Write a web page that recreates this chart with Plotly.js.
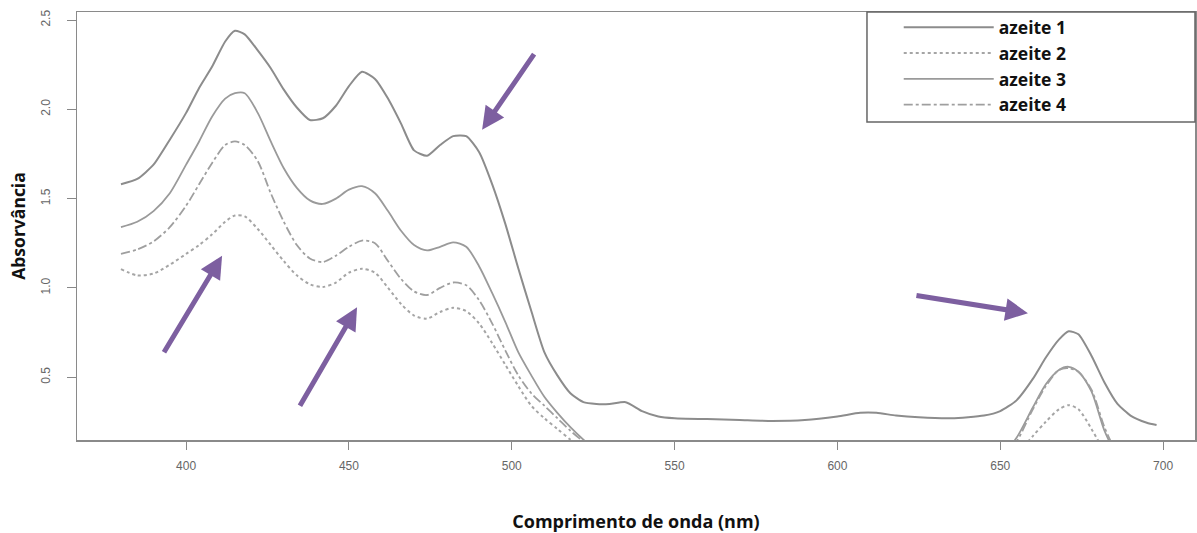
<!DOCTYPE html>
<html>
<head>
<meta charset="utf-8">
<script src="https://cdn.plot.ly/plotly-3.0.1.min.js"></script>
<style>html,body{margin:0;padding:0;background:#fff}#chart{width:1197px;height:533px}</style>
</head>
<body>
<div id="chart"></div>
<script>
// Wavelength (nm)
const wavelengths = [380,385,390,395,400,404,408,412,415,418,422,426,430,434,438,442,446,450,454,458,462,466,470,474,478,482,486,490,494,498,502,506,510,514,518,522,526,530,535,540,545,550,560,570,580,590,600,607,612,618,625,635,645,650,655,660,664,668,671,674,678,682,686,690,695,698];

// Absorbance values (null = below visible range)
const azeite1 = [1.58,1.61,1.69,1.83,1.98,2.12,2.24,2.38,2.44,2.42,2.33,2.23,2.11,2.01,1.94,1.95,2.02,2.13,2.21,2.17,2.06,1.92,1.77,1.74,1.80,1.85,1.85,1.76,1.58,1.36,1.11,0.87,0.64,0.51,0.41,0.36,0.35,0.35,0.36,0.31,0.28,0.27,0.265,0.26,0.255,0.26,0.28,0.30,0.30,0.285,0.275,0.27,0.285,0.31,0.37,0.49,0.61,0.71,0.757,0.74,0.62,0.47,0.35,0.285,0.245,0.232];
const azeite2 = [1.105,1.07,1.08,1.13,1.19,1.24,1.30,1.37,1.405,1.40,1.33,1.24,1.15,1.07,1.02,1.005,1.03,1.085,1.107,1.085,1.00,0.91,0.845,0.828,0.865,0.888,0.87,0.80,0.69,0.57,0.45,0.34,0.27,0.21,0.15,0.10,null,null,null,null,null,null,null,null,null,null,null,null,null,null,null,null,null,null,0.06,0.17,0.25,0.32,0.343,0.32,0.21,0.08,null,null,null,null];
const azeite3 = [1.34,1.37,1.43,1.53,1.69,1.82,1.96,2.06,2.09,2.09,1.98,1.82,1.67,1.56,1.49,1.47,1.50,1.55,1.57,1.53,1.43,1.32,1.24,1.21,1.23,1.255,1.23,1.12,0.97,0.81,0.64,0.51,0.39,0.30,0.22,0.15,0.09,null,null,null,null,null,null,null,null,null,null,null,null,null,null,null,null,0.05,0.16,0.33,0.46,0.54,0.558,0.53,0.42,0.20,0.05,null,null,null];
const azeite4 = [1.19,1.215,1.26,1.34,1.46,1.58,1.70,1.80,1.82,1.80,1.71,1.53,1.37,1.24,1.165,1.145,1.18,1.23,1.265,1.25,1.15,1.05,0.98,0.96,1.00,1.03,1.015,0.93,0.80,0.65,0.51,0.41,0.34,0.27,0.20,0.14,0.09,null,null,null,null,null,null,null,null,null,null,null,null,null,null,null,null,0.04,0.14,0.32,0.45,0.54,0.55,0.53,0.43,0.22,0.06,null,null,null];

const seriesNames = ['azeite 1','azeite 2','azeite 3','azeite 4'];
const yTicks = [0.5,1.0,1.5,2.0,2.5];
const yTickText = ['0.5','1.0','1.5','2.0','2.5'];
const xTicks = [400,450,500,550,600,650,700];

const traces = [
  {x: wavelengths, y: azeite1, name: seriesNames[0], legendgroup: 'g1', mode: 'lines', line: {color: '#8c8c8c', width: 2, shape: 'spline', smoothing: 0.6}},
  {x: wavelengths, y: azeite2, name: seriesNames[1], legendgroup: 'g2', mode: 'lines', line: {color: '#a5a5a5', width: 2, dash: 'dot', shape: 'spline', smoothing: 0.8}},
  {x: wavelengths, y: azeite3, name: seriesNames[2], legendgroup: 'g3', mode: 'lines', line: {color: '#9a9a9a', width: 1.8, shape: 'spline', smoothing: 0.8}},
  {x: wavelengths, y: azeite4, name: seriesNames[3], legendgroup: 'g4', mode: 'lines', line: {color: '#9f9f9f', width: 1.8, dash: 'dashdot', shape: 'spline', smoothing: 0.8}}
];

const arrowColor = '#7d5fa0';
function arrow(x, y, ax, ay) {
  return {x: x, y: y, xref: 'x', yref: 'y', ax: ax, ay: ay, axref: 'pixel', ayref: 'pixel', text: '', showarrow: true,
          arrowhead: 2, arrowsize: 0.9, arrowwidth: 5, arrowcolor: arrowColor};
}

const layout = {
  width: 1197, height: 533,
  paper_bgcolor: '#fff', plot_bgcolor: '#fff',
  margin: {l: 77, r: 2, t: 12, b: 93},
  showlegend: true,
  legend: {x: 0.735, y: 1.006, xanchor: 'left', yanchor: 'top', bgcolor: 'rgba(0,0,0,0)', borderwidth: 0,
           itemwidth: 90, tracegroupgap: 0,
           font: {family: 'Open Sans, sans-serif', size: 17.5, color: '#111', weight: 'bold'}},
  xaxis: {range: [366.5, 709.8], tickvals: xTicks, ticks: 'outside', ticklen: 8, tickcolor: '#888', ticklabelstandoff: 6,
          showgrid: false, zeroline: false, showline: true, mirror: true, linecolor: '#8a8a8a', linewidth: 1.5,
          tickfont: {family: 'Liberation Sans Narrow, Arial Narrow, sans-serif', size: 12, color: '#666'},
          title: {text: 'Comprimento de onda (nm)', standoff: 48, font: {family: 'Open Sans, sans-serif', size: 18, color: '#111', weight: 'bold'}}},
  yaxis: {range: [0.148, 2.545], tickvals: yTicks, ticktext: yTickText, tickangle: -90, ticks: 'outside', ticklen: 9, tickcolor: '#888', ticklabelstandoff: 12,
          showgrid: false, zeroline: false, showline: true, mirror: true, linecolor: '#8a8a8a', linewidth: 1.5,
          tickfont: {family: 'Liberation Sans Narrow, Arial Narrow, sans-serif', size: 12, color: '#666'},
          title: {text: 'Absorvância', standoff: 8, font: {family: 'Open Sans, sans-serif', size: 17.5, color: '#111', weight: 'bold'}}},
  shapes: [
    {type: 'rect', xref: 'paper', yref: 'paper', x0: 0.7066, x1: 1.0, y0: 0.743, y1: 1.0, line: {color: '#666', width: 1.5}, fillcolor: 'rgba(0,0,0,0)'}
  ],
  annotations: [
    arrow(411.05, 1.18, -59, 98),
    arrow(452.5, 0.891, -58, 100),
    arrow(490.9, 1.886, 53, -77),
    arrow(658.5, 0.858, -113, -18)
  ]
};

Plotly.newPlot('chart', traces, layout, {displayModeBar: false, staticPlot: true});
</script>
</body>
</html>
